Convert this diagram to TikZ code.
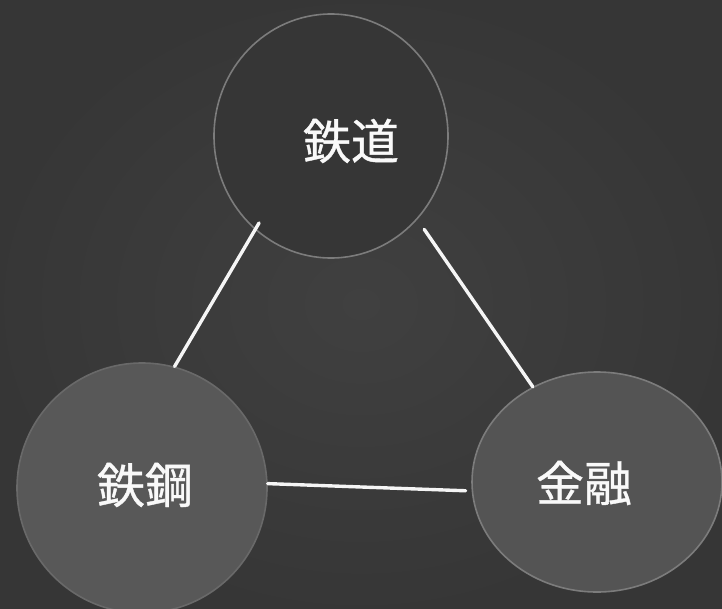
\documentclass[tikz,border=0pt]{standalone}
\usepackage{fontspec}
\newfontfamily\cjk[FakeBold=0.8]{Noto Sans CJK JP}
\usetikzlibrary{shapes.geometric}
\definecolor{bgc}{HTML}{404040}
\definecolor{topfill}{HTML}{363636}
\definecolor{lowfill}{HTML}{585858}
\definecolor{rimc}{HTML}{7C7C7C}
\tikzset{
  disc/.style={ellipse, inner sep=0pt, line width=1.6pt},
  lbl/.style={text=white!95!gray, font=\cjk\fontsize{48}{48}\selectfont, inner sep=0pt},
  link/.style={draw=white!92!gray, line width=3.4pt, line cap=round}
}
\begin{document}
\begin{tikzpicture}[x=1pt,y=-1pt]
  \path[inner color=bgc, outer color=bgc!85!black] (0,0) rectangle (722,608);
  \useasboundingbox (0,0) rectangle (722,608);
  \node[disc, fill=topfill, draw=rimc, minimum width=234pt, minimum height=244pt] (rail) at (331,136) {};
  \node[disc, fill=lowfill, draw=lowfill!90!white, minimum width=250pt, minimum height=250pt] (steel) at (142,488) {};
  \node[disc, fill=lowfill!96!black, draw=rimc, minimum width=250pt, minimum height=220pt] (fin) at (597,482) {};
  \node[lbl] (t1) at (351,141) {鉄道};
  \node[lbl] (t2) at (145,485) {鉄鋼};
  \node[lbl] (t3) at (584,483) {金融};
  \draw[link, shorten <=-8pt] (rail.231) -- (steel.75);
  \draw[link, shorten <=12pt] (rail.316) -- (fin.124);
  \draw[link] (steel.2.4) -- ([xshift=-6pt]fin.184);
\end{tikzpicture}
\end{document}
